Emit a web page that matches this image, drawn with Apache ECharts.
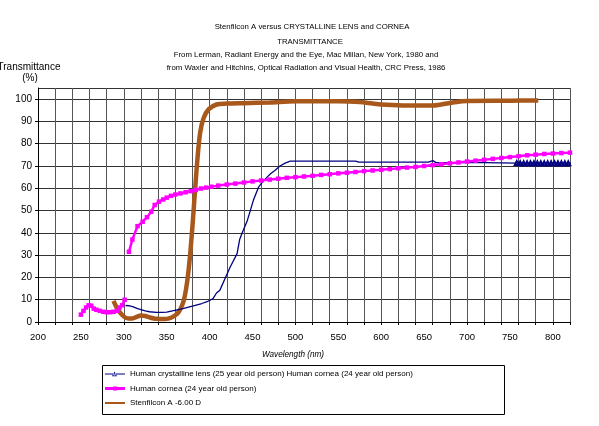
<!DOCTYPE html>
<html>
<head>
<meta charset="utf-8">
<script src="https://cdn.jsdelivr.net/npm/echarts@6/dist/echarts.min.js"></script>
<style>
html,body{margin:0;padding:0;background:#fff;}
#c{width:599px;height:426px;}
</style>
</head>
<body>
<div id="c"></div>
<script>
// ---- data ----
const titleLines = [
  "Stenfilcon A versus CRYSTALLINE LENS and CORNEA",
  "TRANSMITTANCE",
  "From Lerman, Radiant Energy and the Eye, Mac Millan, New York, 1980 and",
  "from Waxler and Hitchins, Optical Radiation and Visual Health, CRC Press, 1986"
];
const yAxisTitle = ["Transmittance", "(%)"];
const xAxisTitle = "Wavelength (nm)";
const seriesNames = [
  "Human crystalline lens (25 year old person) Human cornea (24 year old person)",
  "Human cornea (24 year old person)",
  "Stenfilcon A -6.00 D"
];

// Human crystalline lens
const lensWl = [302,306,311,316,320,325,330,338,345,350,358,365,370,381,391,397,404,408,412,418,424,432,435,438,444,451,457,462,467,471,476,482,488,494,570,574,600,655,660,664,720,758,762,766,770,774,778,782,786,790,794,798,802,806,810,814,818,821];
const lensT  = [7.4,7.3,6.8,6.0,5.6,5.0,4.6,4.3,4.3,4.4,5.1,5.7,6.1,7.2,8.3,9.1,10.5,13.0,14.3,19.5,24.7,30.7,37.0,40.0,45.6,54.6,60.5,63.0,65.0,66.5,68.0,70.0,71.3,72.2,72.2,71.7,71.7,71.7,72.4,71.5,71.5,71.3,71.2,71.2,71.2,71.2,71.2,71.2,71.2,71.2,71.2,71.2,71.2,71.2,71.2,71.2,71.2,71.2];

// Human cornea (null = gap in the measured curve)
const corneaWl = [250,253,256,259,262,265,268,272,276,280,284,288,292,295,298,301,303,306,310,316,322,327,332,336,341,346,350,355,360,366,372,378,384,390,396,402,410,420,430,440,450,460,470,480,490,500,510,520,530,540,550,560,570,580,590,600,610,620,630,640,650,660,670,680,690,700,710,720,730,740,750,760,770,780,790,800,810,820];
const corneaT  = [3.3,5.0,6.5,7.5,7.3,6.0,5.5,5.0,4.6,4.4,4.4,4.6,5.0,6.5,7.5,10.0,null,31.5,37.0,43.0,45.0,47.0,49.5,52.5,54.0,55.0,55.8,56.6,57.2,57.7,58.2,58.7,59.3,59.9,60.3,60.7,61.2,61.7,62.1,62.6,63.1,63.5,63.9,64.3,64.7,65.0,65.3,65.6,66.0,66.3,66.7,67.0,67.3,67.7,68.0,68.3,68.6,69.0,69.3,69.6,70.0,70.4,70.8,71.2,71.6,72.0,72.4,72.8,73.2,73.6,74.0,74.4,74.8,75.1,75.4,75.6,75.8,76.0];

// Stenfilcon A -6.00 D
const stenWl = [288,291,295,300,305,310,315,320,325,330,335,340,345,350,355,360,364,368,371,374,377,380,383,386,389,393,399,408,420,440,470,500,550,575,590,600,625,660,670,685,700,750,783];
const stenT  = [9.5,7.0,4.5,2.5,1.6,1.6,2.3,2.9,2.7,2.1,1.6,1.4,1.3,1.4,1.9,3.0,4.5,7.5,11.5,18.5,29.0,43.0,59.0,74.0,85.0,91.5,95.5,97.6,98.0,98.2,98.5,99.0,99.0,98.7,98.0,97.6,97.2,97.1,97.6,98.6,99.2,99.3,99.4];

const xMin = 200, xMax = 820, xLabelStep = 50, xGridStep = 20;
const yMin = 0, yMax = 105, yStep = 10;

const pair = (xs, ys) => xs.map((x, i) => [x, ys[i]]);

const NAVY = '#000080', MAGENTA = '#ff00ff', BROWN = '#A8581A';
const FONT = '"Liberation Sans", Arial, sans-serif';

// legend icons (20 x 10 box; tiny corner specks fix the bounding box)
const BOX = 'M0,0L0.01,0L0.01,0.01Z M20,10L19.99,10L19.99,9.99Z ';
const iconLens = 'path://' + BOX + 'M0,4.5L20,4.5L20,5.5L0,5.5Z M7,7.2L12,7.2L9.5,2.6Z M8.3,6.5L9.5,4.2L10.7,6.5Z';
const iconCornea = 'path://' + BOX + 'M0,3.6L20,3.6L20,6.4L0,6.4Z M8,3L12,3L12,7L8,7Z';
const iconSten = 'path://' + BOX + 'M0,4L20,4L20,6L0,6Z';

const chart = echarts.init(document.getElementById('c'), null, {renderer: 'canvas'});

chart.setOption({
  animation: false,
  backgroundColor: '#fff',
  textStyle: {fontFamily: FONT},
  grid: {left: 38, right: 29, top: 88, bottom: 104, containLabel: false},
  xAxis: [
    {
      type: 'value', min: xMin, max: xMax, interval: xGridStep,
      axisLine: {show: true, onZero: false, lineStyle: {color: '#000', width: 1}},
      axisTick: {show: true, length: 3, lineStyle: {color: '#000'}},
      axisLabel: {show: false},
      splitLine: {show: true, lineStyle: {color: '#555', width: 1}}
    },
    {
      type: 'value', min: xMin, max: xMax, interval: xLabelStep, position: 'bottom',
      axisLine: {show: false}, axisTick: {show: false}, splitLine: {show: false},
      axisLabel: {show: true, color: '#000', fontSize: 9.5, fontFamily: FONT, margin: 10, showMaxLabel: false}
    }
  ],
  yAxis: {
    type: 'value', min: yMin, max: yMax, interval: yStep,
    axisLine: {show: true, lineStyle: {color: '#000', width: 1}},
    axisTick: {show: true, length: 3, lineStyle: {color: '#000'}},
    axisLabel: {color: '#000', fontSize: 10, fontFamily: FONT, margin: 6, showMaxLabel: false},
    splitLine: {show: true, lineStyle: {color: '#333', width: 1}}
  },
  legend: {
    show: true, orient: 'vertical', left: 105, top: 369, padding: 0,
    itemWidth: 20, itemHeight: 10, itemGap: 4.5,
    symbolKeepAspect: false,
    itemStyle: {borderWidth: 0},
    textStyle: {color: '#000', fontSize: 8, fontFamily: FONT, lineHeight: 10},
    data: [
      {name: seriesNames[0], icon: iconLens, itemStyle: {color: NAVY, borderWidth: 0}},
      {name: seriesNames[1], icon: iconCornea, itemStyle: {color: MAGENTA, borderWidth: 0}},
      {name: seriesNames[2], icon: iconSten, itemStyle: {color: BROWN, borderWidth: 0}}
    ]
  },
  series: [
    {
      name: seriesNames[0], type: 'line', xAxisIndex: 0,
      data: pair(lensWl, lensT),
      symbol: 'emptyTriangle',
      symbolSize: (v) => (v[0] >= 758 ? 4 : 0),
      showSymbol: true,
      lineStyle: {color: NAVY, width: 1.3},
      itemStyle: {color: NAVY, borderColor: NAVY, borderWidth: 1},
      z: 3
    },
    {
      name: seriesNames[1], type: 'line', xAxisIndex: 0,
      data: pair(corneaWl, corneaT),
      connectNulls: false,
      symbol: 'rect', symbolSize: 4.5, showSymbol: true,
      lineStyle: {color: MAGENTA, width: 2.5},
      itemStyle: {color: MAGENTA},
      z: 4
    },
    {
      name: seriesNames[2], type: 'line', xAxisIndex: 0,
      data: pair(stenWl, stenT),
      symbol: 'none', smooth: 0.3,
      lineStyle: {color: BROWN, width: 4.5},
      itemStyle: {color: BROWN},
      z: 2
    }
  ],
  graphic: [
    {type: 'text', x: 312, y: 27, style: {text: titleLines[0], font: '7.8px ' + FONT, fill: '#000', align: 'center', verticalAlign: 'middle'}},
    {type: 'text', x: 310, y: 42, style: {text: titleLines[1], font: '7.8px ' + FONT, fill: '#000', align: 'center', verticalAlign: 'middle'}},
    {type: 'text', x: 306, y: 55, style: {text: titleLines[2], font: '7.8px ' + FONT, fill: '#000', align: 'center', verticalAlign: 'middle'}},
    {type: 'text', x: 306, y: 68, style: {text: titleLines[3], font: '7.8px ' + FONT, fill: '#000', align: 'center', verticalAlign: 'middle'}},
    {type: 'text', x: 29, y: 67, style: {text: yAxisTitle[0], font: '10px ' + FONT, fill: '#000', align: 'center', verticalAlign: 'middle'}},
    {type: 'text', x: 30, y: 78, style: {text: yAxisTitle[1], font: '10px ' + FONT, fill: '#000', align: 'center', verticalAlign: 'middle'}},
    {type: 'text', x: 293, y: 355, style: {text: xAxisTitle, font: 'italic 8.2px ' + FONT, fill: '#000', align: 'center', verticalAlign: 'middle'}},
    {type: 'rect', shape: {x: 102.5, y: 365.5, width: 402, height: 49}, style: {fill: 'none', stroke: '#000', lineWidth: 1}, z: -1}
  ]
});
</script>
</body>
</html>
